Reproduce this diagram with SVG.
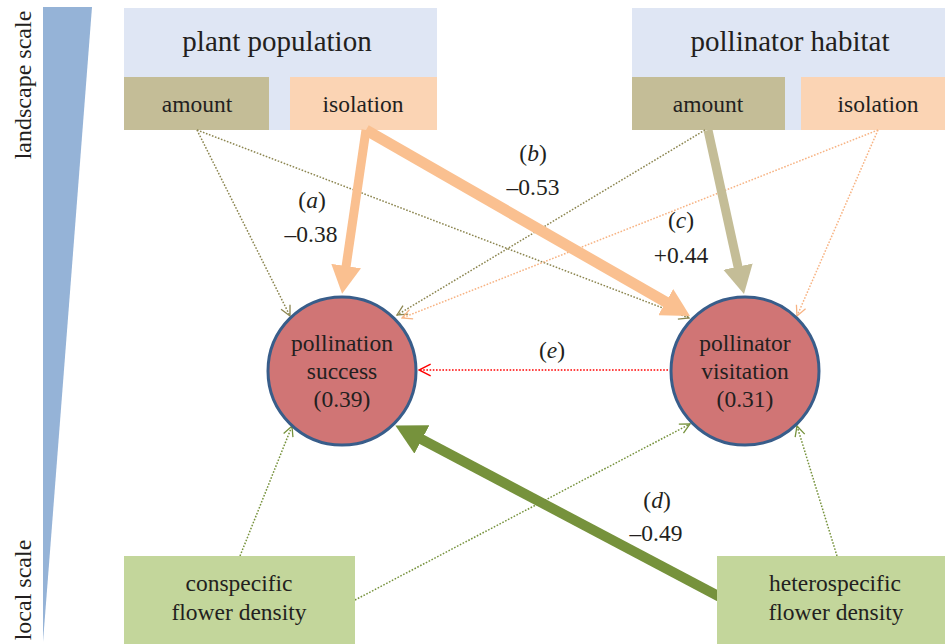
<svg xmlns="http://www.w3.org/2000/svg" width="945" height="644" viewBox="0 0 945 644" font-family="Liberation Serif" font-size="23.5" text-anchor="middle">
<defs>
<marker id="hO" markerUnits="userSpaceOnUse" viewBox="0 0 28 30" markerWidth="28" markerHeight="30" refX="1" refY="15" orient="auto"><path d="M0,0 L28,15 L0,30 z" fill="#fac090"/></marker>
<marker id="hT" markerUnits="userSpaceOnUse" viewBox="0 0 28 30" markerWidth="28" markerHeight="30" refX="1" refY="15" orient="auto"><path d="M0,0 L28,15 L0,30 z" fill="#c4bd97"/></marker>
<marker id="hG" markerUnits="userSpaceOnUse" viewBox="0 0 30 32" markerWidth="30" markerHeight="32" refX="1" refY="16" orient="auto"><path d="M0,0 L30,16 L0,32 z" fill="#76923c"/></marker>
<marker id="vOlive" markerUnits="userSpaceOnUse" viewBox="0 0 12 12" markerWidth="12" markerHeight="12" refX="11" refY="6" orient="auto"><path d="M1,1 L11,6 L1,11" fill="none" stroke="#8c8650" stroke-width="1.3"/></marker>
<marker id="vOrange" markerUnits="userSpaceOnUse" viewBox="0 0 12 12" markerWidth="12" markerHeight="12" refX="11" refY="6" orient="auto"><path d="M1,1 L11,6 L1,11" fill="none" stroke="#f7b383" stroke-width="1.3"/></marker>
<marker id="vGreen" markerUnits="userSpaceOnUse" viewBox="0 0 12 12" markerWidth="12" markerHeight="12" refX="11" refY="6" orient="auto"><path d="M1,1 L11,6 L1,11" fill="none" stroke="#76923c" stroke-width="1.3"/></marker>
<marker id="vRed" markerUnits="userSpaceOnUse" viewBox="0 0 12 12" markerWidth="14" markerHeight="14" refX="11" refY="6" orient="auto"><path d="M1,1 L11,6 L1,11" fill="none" stroke="#ff0000" stroke-width="1.2"/></marker>
</defs>

<g id="scale">
<polygon points="43,7 92,7 43,642" fill="#95b3d7"/>
<text transform="translate(31,85) rotate(-90)" font-size="24" fill="#231f20">landscape scale</text>
<text transform="translate(31,590) rotate(-90)" font-size="24" fill="#231f20">local scale</text>
</g>

<g id="plant-population">
<rect x="124" y="8" width="313" height="122" fill="#dfe6f4"/>
<text x="277" y="51" font-size="29" fill="#231f20">plant population</text>
</g>
<g id="plant-amount">
<rect x="124" y="77" width="145" height="53" fill="#c4bd97"/>
<text x="197" y="112" fill="#231f20">amount</text>
</g>
<g id="plant-isolation">
<rect x="290" y="77" width="147" height="53" fill="#fbd4b4"/>
<text x="363" y="112" fill="#231f20">isolation</text>
</g>

<g id="pollinator-habitat">
<rect x="632" y="8" width="313" height="122" fill="#dfe6f4"/>
<text x="790" y="51" font-size="29" fill="#231f20">pollinator habitat</text>
</g>
<g id="pollinator-amount">
<rect x="632" y="77" width="153" height="53" fill="#c4bd97"/>
<text x="708" y="112" fill="#231f20">amount</text>
</g>
<g id="pollinator-isolation">
<rect x="801" y="77" width="144" height="53" fill="#fbd4b4"/>
<text x="878" y="112" fill="#231f20">isolation</text>
</g>

<g id="connectors" fill="#231f20">
<g fill="none" stroke-width="1.5" stroke-dasharray="1.6 1.6">
<g stroke="#8c8650" marker-end="url(#vOlive)">
<line x1="197" y1="130" x2="290" y2="316"/>
<line x1="197" y1="130" x2="689" y2="318"/>
<line x1="705" y1="130" x2="397" y2="315"/>
</g>
<g stroke="#f7b383" marker-end="url(#vOrange)">
<line x1="878" y1="130" x2="402" y2="318"/>
<line x1="878" y1="130" x2="797" y2="316"/>
</g>
<g stroke="#76923c" marker-end="url(#vGreen)">
<line x1="240" y1="556" x2="292" y2="426"/>
<line x1="355" y1="600" x2="690" y2="424"/>
<line x1="837" y1="556" x2="797" y2="426"/>
</g>
<line x1="668" y1="370" x2="419" y2="370" stroke="#ff0000" marker-end="url(#vRed)"/>
</g>
<line x1="366" y1="130" x2="346" y2="267" stroke="#fac090" stroke-width="9" marker-end="url(#hO)"/>
<line x1="366" y1="130" x2="666.6" y2="302.6" stroke="#fac090" stroke-width="11" marker-end="url(#hO)"/>
<line x1="708" y1="130" x2="738.2" y2="267.6" stroke="#c4bd97" stroke-width="9" marker-end="url(#hT)"/>
<line x1="720" y1="597" x2="421" y2="439" stroke="#76923c" stroke-width="10" marker-end="url(#hG)"/>
<text x="312" y="208">(<tspan font-style="italic">a</tspan>)</text>
<text x="311" y="242">–0.38</text>
<text x="533" y="161">(<tspan font-style="italic">b</tspan>)</text>
<text x="533" y="195">–0.53</text>
<text x="681" y="228">(<tspan font-style="italic">c</tspan>)</text>
<text x="681" y="263">+0.44</text>
<text x="657" y="508">(<tspan font-style="italic">d</tspan>)</text>
<text x="656" y="541">–0.49</text>
<text x="552" y="358">(<tspan font-style="italic">e</tspan>)</text>
</g>

<g id="pollination-success" fill="#231f20">
<circle cx="342" cy="371" r="74" fill="#d07575" stroke="#385d8a" stroke-width="3"/>
<text x="342" y="351">pollination</text>
<text x="342" y="379">success</text>
<text x="342" y="407">(0.39)</text>
</g>
<g id="pollinator-visitation" fill="#231f20">
<circle cx="745" cy="371" r="74" fill="#d07575" stroke="#385d8a" stroke-width="3"/>
<text x="745" y="351">pollinator</text>
<text x="745" y="379">visitation</text>
<text x="745" y="407">(0.31)</text>
</g>

<g id="conspecific-flower-density" fill="#231f20">
<rect x="124" y="556" width="231" height="88" fill="#c3d69b"/>
<text x="239" y="591">conspecific</text>
<text x="239" y="620">flower density</text>
</g>
<g id="heterospecific-flower-density" fill="#231f20">
<rect x="717" y="556" width="228" height="88" fill="#c3d69b"/>
<text x="835" y="591">heterospecific</text>
<text x="836" y="620">flower density</text>
</g>
</svg>
